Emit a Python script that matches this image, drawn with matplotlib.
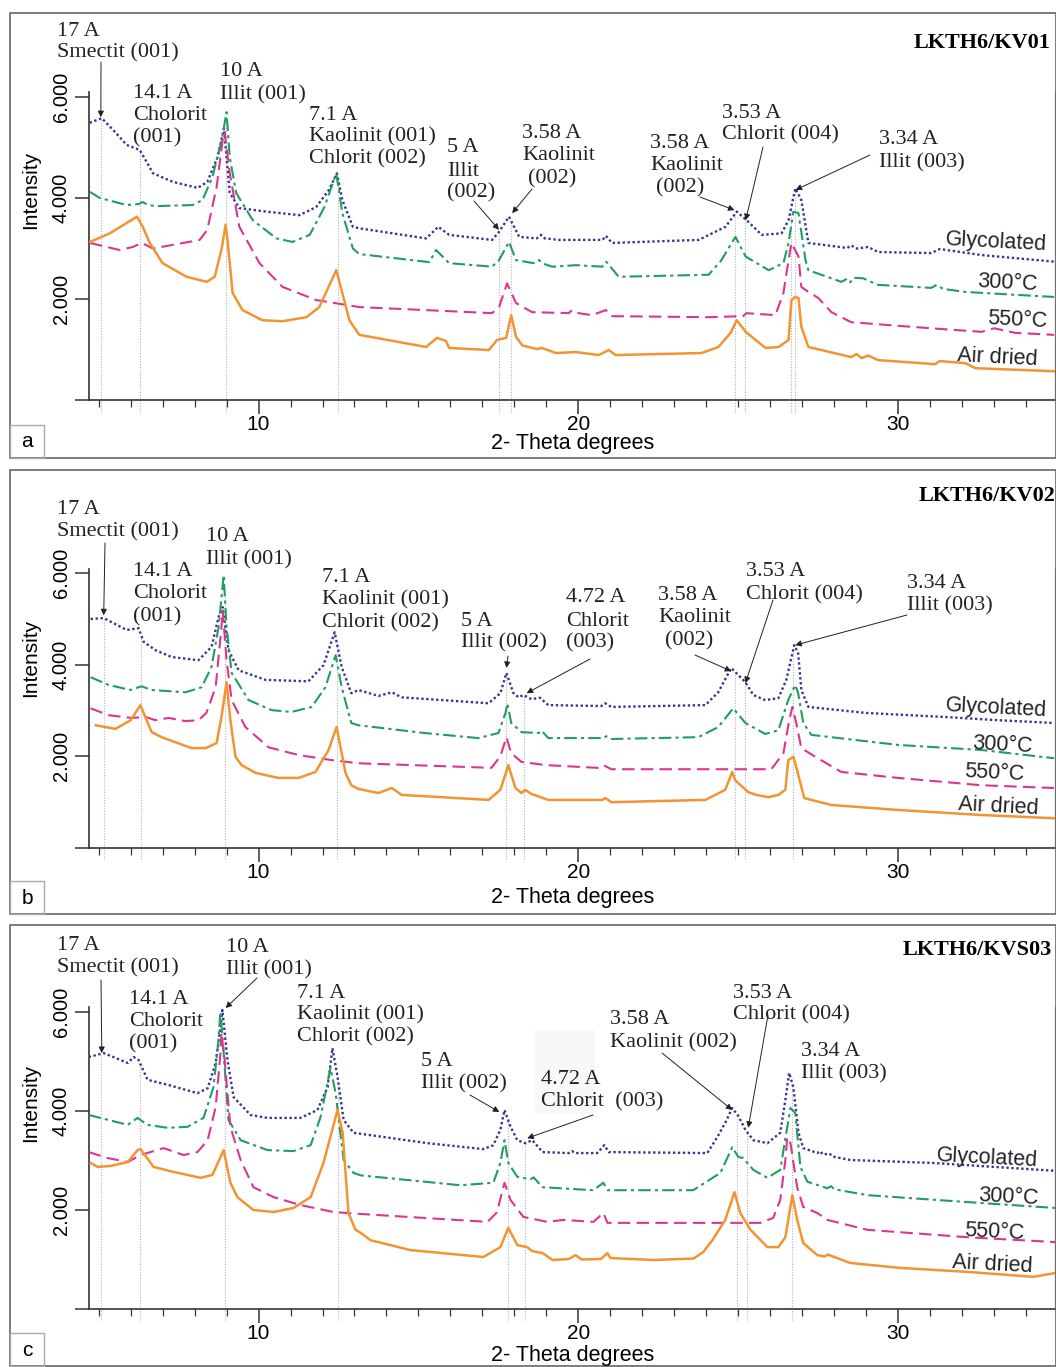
import matplotlib
matplotlib.use('Agg')
import matplotlib.pyplot as plt
import numpy as np
from matplotlib.patches import Rectangle

W, H = 1056, 1367
SERIF = 'Liberation Serif'
SANS = 'Liberation Sans'

SERIES = ['Glycolated', '300\u00b0C', '550\u00b0C', 'Air dried']
COLORS = ['#34349a', '#1f9e5e', '#dc3590', '#f29433']
STYLES = [(0, (1, 1.1)), (0, (6, 2, 1.5, 2)), (0, (6, 3)), '-']
WIDTHS = [1.7, 1.5, 1.5, 1.8]

# (2-theta, intensity), panel a  LKTH6/KV01
A_GLY = [(4.72, 5490), (5.1, 5580), (5.45, 5350), (5.88, 5050), (6.29, 4950), (6.7, 4490), (7.32, 4320),
         (8.1, 4200), (8.4, 4320), (8.72, 4810), (8.92, 5380), (9.1, 4100), (9.4, 3800), (10.25, 3730),
         (11.28, 3660), (11.8, 3820), (12.2, 4160), (12.45, 4490), (12.62, 3960), (12.95, 3430),
         (13.15, 3400), (15.24, 3200), (15.62, 3430), (15.96, 3270), (17.3, 3170), (17.52, 3330),
         (17.83, 3630), (18.15, 3230), (18.7, 3200), (18.83, 3270), (18.95, 3200), (19.4, 3170),
         (20.75, 3170), (20.86, 3250), (21.05, 3110), (23.76, 3170), (24.6, 3430), (24.95, 3730),
         (25.26, 3560), (25.73, 3270), (26.35, 3300), (26.57, 3560), (26.78, 4190), (26.97, 3960),
         (27.19, 3110), (28.4, 3010), (28.53, 3060), (28.7, 3000), (29.06, 3030), (29.37, 2930),
         (31.03, 2910), (31.3, 2990), (32.6, 2870), (34.87, 2740)]
A_300 = [(4.73, 4120), (5.04, 4000), (5.88, 3860), (6.25, 3880), (6.38, 3920), (6.55, 3860), (6.8, 3840),
         (7.94, 3860), (8.25, 3960), (8.56, 4420), (8.85, 5150), (9.0, 5700), (9.1, 4810), (9.3, 4100),
         (9.82, 3560), (10.56, 3200), (11.06, 3130), (11.6, 3270), (12.06, 3820), (12.43, 4490),
         (12.62, 3700), (12.95, 3000), (13.15, 2890), (15.34, 2730), (15.55, 2970), (15.96, 2710),
         (17.3, 2640), (17.52, 2770), (17.83, 3130), (18.05, 2770), (18.6, 2710), (18.77, 2770),
         (18.9, 2700), (19.18, 2640), (19.92, 2670), (20.75, 2640), (20.87, 2740), (21.26, 2440),
         (24.07, 2480), (24.45, 2750), (24.91, 3230), (25.23, 2840), (25.95, 2570), (26.41, 2710),
         (26.57, 3110), (26.72, 3730), (26.88, 3700), (27.1, 2770), (27.19, 2570), (28.22, 2340),
         (28.4, 2400), (28.5, 2330), (28.6, 2420), (28.9, 2410), (29.37, 2280), (31.03, 2220),
         (31.2, 2280), (31.4, 2200), (32.1, 2140), (34.87, 2040)]
A_550 = [(4.73, 3110), (5.66, 2970), (6.07, 3030), (6.35, 3110), (6.7, 3000), (8.16, 3170), (8.4, 3370),
         (8.69, 4220), (8.88, 5150), (8.94, 5310), (9.1, 4490), (9.4, 3430), (10.03, 2710), (10.75, 2240),
         (11.8, 1980), (13.15, 1840), (17.3, 1720), (17.52, 1840), (17.77, 2310), (18.05, 1920),
         (18.55, 1740), (19.7, 1720), (19.8, 1780), (20.0, 1720), (20.42, 1680), (20.86, 1780),
         (21.05, 1660), (24.07, 1640), (25.15, 1660), (25.25, 1720), (26.16, 1680), (26.41, 2120),
         (26.57, 2770), (26.66, 3110), (26.88, 2840), (26.97, 2240), (27.19, 2140), (27.5, 2020),
         (27.91, 1740), (28.53, 1540), (31.03, 1420), (32.6, 1350), (33.0, 1420), (33.65, 1330),
         (34.87, 1290)]
A_AIR = [(4.73, 3130), (5.35, 3300), (6.2, 3630), (6.38, 3430), (6.6, 3110), (7.0, 2710), (7.75, 2440),
         (8.38, 2340), (8.63, 2440), (8.85, 3000), (8.97, 3470), (9.03, 3170), (9.19, 2120), (9.5, 1780),
         (10.12, 1580), (10.75, 1560), (11.5, 1640), (11.9, 1840), (12.43, 2570), (12.62, 2120),
         (12.84, 1580), (13.15, 1290), (15.24, 1050), (15.58, 1230), (15.86, 1170), (15.96, 1030),
         (17.2, 990), (17.46, 1190), (17.74, 1230), (17.9, 1680), (18.05, 1250), (18.25, 1080),
         (18.7, 1010), (18.86, 1030), (19.3, 930), (19.92, 950), (20.64, 890), (20.95, 990),
         (21.17, 890), (23.85, 930), (24.38, 1050), (24.76, 1330), (24.95, 1580), (25.23, 1350),
         (25.54, 1190), (25.85, 1030), (26.26, 1050), (26.57, 1190), (26.66, 1980), (26.78, 2040),
         (26.88, 2020), (26.97, 1450), (27.19, 1050), (28.53, 850), (28.7, 910), (28.85, 830),
         (29.06, 880), (29.37, 790), (31.15, 710), (31.3, 770), (32.1, 730), (32.41, 630), (34.87, 570)]

# panel b  LKTH6/KV02
B_GLY = [(4.75, 5000), (5.16, 5020), (5.88, 4760), (6.25, 4800), (6.41, 4500), (6.78, 4320), (7.28, 4170),
         (8.12, 4100), (8.53, 4390), (8.75, 5040), (8.88, 5260), (9.06, 4320), (9.38, 3880), (10.22, 3670),
         (11.56, 3640), (12.03, 3990), (12.38, 4710), (12.6, 3950), (12.9, 3380), (13.12, 3450),
         (13.75, 3320), (14.17, 3400), (14.47, 3290), (17.19, 3160), (17.56, 3380), (17.75, 3820),
         (17.97, 3380), (18.13, 3290), (18.28, 3340), (18.53, 3250), (18.8, 3280), (19.06, 3120),
         (20.72, 3100), (20.84, 3160), (21.03, 3080), (23.97, 3120), (24.37, 3400), (24.78, 3930),
         (25.22, 3620), (25.47, 3340), (25.84, 3230), (26.25, 3270), (26.5, 3670), (26.75, 4430),
         (26.87, 4250), (26.97, 3450), (27.19, 3080), (28.97, 2950), (31.47, 2860), (33.12, 2790),
         (34.87, 2730)]
B_300 = [(4.75, 3730), (5.31, 3560), (6.0, 3450), (6.34, 3530), (6.66, 3450), (7.72, 3400), (8.22, 3510),
         (8.53, 3950), (8.75, 4820), (8.91, 5960), (9.0, 4820), (9.16, 3820), (9.69, 3230), (10.41, 3010),
         (11.03, 2970), (11.66, 3080), (12.09, 3510), (12.41, 4210), (12.6, 3510), (12.9, 2730),
         (13.12, 2680), (15.2, 2510), (16.87, 2400), (17.5, 2510), (17.72, 2950), (17.78, 3160),
         (17.9, 2730), (18.22, 2530), (18.75, 2510), (18.85, 2560), (19.06, 2400), (20.78, 2400),
         (20.87, 2440), (21.03, 2380), (23.75, 2420), (24.37, 2640), (24.84, 3050), (25.22, 2730),
         (25.84, 2490), (26.25, 2570), (26.56, 3230), (26.78, 3560), (26.87, 3380), (27.03, 2730),
         (27.28, 2470), (30.0, 2250), (32.6, 2140), (34.87, 1960)]
B_550 = [(4.75, 3050), (5.31, 2900), (6.03, 2840), (6.47, 2860), (6.78, 2790), (7.19, 2840), (7.72, 2770),
         (8.12, 2790), (8.37, 2950), (8.66, 3510), (8.84, 4820), (8.88, 5190), (9.0, 4100), (9.16, 3230),
         (9.59, 2640), (10.31, 2200), (11.25, 2030), (12.28, 1920), (13.12, 1850), (17.28, 1750),
         (17.56, 2000), (17.75, 2420), (17.9, 2070), (18.22, 1880), (18.97, 1810), (20.6, 1750),
         (20.78, 1810), (21.03, 1720), (24.37, 1720), (26.03, 1720), (26.41, 2070), (26.59, 2790),
         (26.69, 3080), (26.81, 2730), (26.97, 2180), (27.41, 1990), (28.22, 1660), (30.0, 1530),
         (32.6, 1370), (34.87, 1310)]
B_AIR = [(4.91, 2680), (5.53, 2600), (6.0, 2790), (6.31, 3120), (6.47, 2840), (6.66, 2530), (6.97, 2420),
         (7.91, 2180), (8.34, 2180), (8.69, 2290), (8.84, 2860), (9.0, 3620), (9.12, 2790), (9.28, 1990),
         (9.47, 1810), (9.91, 1640), (10.62, 1530), (11.25, 1530), (11.78, 1660), (12.19, 2140),
         (12.44, 2640), (12.72, 1640), (12.9, 1370), (13.12, 1290), (13.75, 1200), (14.17, 1310),
         (14.47, 1160), (17.19, 1050), (17.56, 1270), (17.81, 1810), (18.03, 1310), (18.22, 1200),
         (18.34, 1270), (18.53, 1180), (19.06, 1050), (20.75, 1050), (20.84, 1090), (21.03, 1000),
         (23.97, 1050), (24.28, 1160), (24.59, 1270), (24.81, 1660), (24.9, 1480), (25.31, 1220),
         (25.56, 1160), (25.94, 1110), (26.25, 1160), (26.47, 1270), (26.56, 1920), (26.72, 1990),
         (26.81, 1770), (27.06, 1090), (27.9, 940), (30.0, 830), (32.6, 720), (34.87, 650)]

# panel c  LKTH6/KVS03
C_GLY = [(4.69, 5090), (5.16, 5170), (5.91, 4970), (6.1, 5090), (6.25, 5030), (6.53, 4630), (7.16, 4530),
         (8.09, 4360), (8.41, 4460), (8.66, 4970), (8.81, 5700), (8.87, 6040), (9.03, 5030), (9.22, 4280),
         (9.75, 3920), (10.28, 3860), (11.31, 3860), (11.84, 4020), (12.16, 4480), (12.31, 5270),
         (12.47, 4690), (12.66, 3820), (12.97, 3560), (15.28, 3350), (17.03, 3230), (17.34, 3310),
         (17.56, 3620), (17.69, 4020), (17.88, 3680), (18.09, 3410), (18.34, 3350), (18.56, 3410),
         (18.88, 3170), (19.7, 3150), (19.8, 3190), (19.9, 3150), (20.59, 3150), (20.81, 3310),
         (20.95, 3170), (24.03, 3150), (24.34, 3470), (24.59, 3760), (24.81, 4060), (25.0, 3900),
         (25.22, 3620), (25.47, 3410), (25.91, 3350), (26.31, 3560), (26.47, 4220), (26.59, 4770),
         (26.72, 4480), (26.88, 3560), (27.03, 3250), (27.47, 3150), (27.55, 3190), (27.65, 3120),
         (27.85, 3140), (27.95, 3080), (28.5, 3010), (31.1, 2950), (34.94, 2790)]
C_300 = [(4.69, 3920), (5.91, 3720), (6.22, 3860), (6.53, 3720), (7.16, 3660), (7.78, 3680), (8.28, 3860),
         (8.59, 4480), (8.75, 5430), (8.81, 6000), (8.91, 5170), (9.06, 3820), (9.44, 3410), (10.28, 3210),
         (11.09, 3190), (11.63, 3310), (11.94, 3880), (12.25, 4870), (12.41, 4360), (12.66, 3010),
         (12.97, 2750), (13.19, 2700), (16.31, 2500), (17.34, 2550), (17.56, 2950), (17.69, 3410),
         (17.81, 2950), (18.09, 2670), (18.5, 2620), (18.6, 2660), (18.88, 2460), (20.47, 2400),
         (20.78, 2550), (20.91, 2400), (23.59, 2400), (24.44, 2750), (24.81, 3270), (25.0, 3070),
         (25.15, 3050), (25.47, 2810), (25.91, 2650), (26.31, 2810), (26.5, 3560), (26.63, 4060),
         (26.78, 3960), (26.94, 2870), (27.16, 2570), (27.78, 2440), (27.9, 2480), (28.0, 2420),
         (29.03, 2300), (32.16, 2160), (34.94, 2040)]
C_550 = [(4.69, 3170), (5.28, 3050), (5.91, 2970), (6.31, 3110), (7.03, 3250), (7.66, 3110), (8.09, 3170),
         (8.41, 3410), (8.66, 4080), (8.81, 5170), (8.84, 5580), (8.94, 5030), (9.12, 3680), (9.44, 3010),
         (9.84, 2460), (10.47, 2260), (11.31, 2100), (12.34, 1960), (13.19, 1920), (17.16, 1760),
         (17.45, 1950), (17.69, 2550), (17.88, 2200), (18.28, 1860), (19.03, 1760), (19.53, 1800),
         (20.47, 1760), (20.78, 1940), (20.91, 1740), (25.69, 1740), (26.09, 1840), (26.31, 2200),
         (26.47, 3010), (26.53, 3470), (26.63, 3350), (26.84, 2460), (27.03, 2060), (27.47, 1940),
         (27.78, 1800), (29.03, 1600), (32.16, 1450), (34.94, 1350)]
C_AIR = [(4.75, 2950), (4.97, 2870), (5.38, 2890), (5.91, 2970), (6.22, 3210), (6.31, 3230), (6.72, 2870),
         (7.34, 2770), (8.19, 2650), (8.56, 2710), (8.91, 3210), (9.12, 2550), (9.34, 2260), (9.84, 2000),
         (10.47, 1960), (11.09, 2040), (11.63, 2260), (12.03, 2950), (12.47, 4020), (12.63, 3560),
         (12.81, 1940), (13.03, 1600), (13.19, 1540), (13.5, 1390), (14.75, 1190), (17.03, 1050),
         (17.56, 1250), (17.81, 1640), (18.09, 1290), (18.4, 1250), (18.55, 1170), (18.88, 1130),
         (19.19, 990), (19.7, 1010), (19.91, 1090), (20.1, 1000), (20.7, 1010), (20.91, 1130),
         (21.0, 1030), (22.34, 990), (23.6, 1020), (23.9, 1150), (24.2, 1400), (24.59, 1800),
         (24.88, 2360), (25.06, 1940), (25.38, 1600), (25.91, 1250), (26.25, 1250), (26.47, 1450),
         (26.69, 2300), (26.84, 1800), (27.03, 1330), (27.47, 1090), (27.7, 1060), (27.8, 1100),
         (28.0, 1050), (28.5, 930), (30.06, 830), (32.16, 750), (34.22, 650), (34.94, 730)]

# peak positions marked by thin dotted lines
A_REF = [5.07, 6.28, 8.97, 12.5, 17.52, 17.9, 24.9, 25.2, 26.66, 26.78]
B_REF = [5.16, 6.34, 8.94, 12.44, 17.75, 18.3, 24.9, 25.22, 26.7]
C_REF = [5.06, 6.28, 8.94, 12.5, 17.81, 18.34, 24.97, 25.28, 26.69]

TITLES = ['LKTH6/KV01', 'LKTH6/KV02', 'LKTH6/KVS03']
LETTERS = ['a', 'b', 'c']

# annotation lines: (left px, centre px, text)
A_TEXT = [(57, 31, '17 A'), (57, 53, 'Smectit (001)'), (133, 93, '14.1 A'), (133, 116, 'Cholorit'),
          (133, 138, '(001)'), (220, 72, '10 A'), (220, 95, 'Illit (001)'), (309, 115, '7.1 A'),
          (309, 137, 'Kaolinit (001)'), (309, 159, 'Chlorit (002)'), (447, 148, '5 A'), (447, 171, 'Illit'),
          (447, 193, '(002)'), (522, 133, '3.58 A'), (522, 156, 'Kaolinit'), (528, 179, '(002)'),
          (650, 143, '3.58 A'), (650, 165, 'Kaolinit'), (656, 188, '(002)'), (722, 113, '3.53 A'),
          (722, 135, 'Chlorit (004)'), (879, 140, '3.34 A'), (879, 163, 'Illit (003)')]
B_TEXT = [(57, 509, '17 A'), (57, 532, 'Smectit (001)'), (133, 572, '14.1 A'), (133, 594, 'Cholorit'),
          (133, 617, '(001)'), (206, 537, '10 A'), (206, 560, 'Illit (001)'), (322, 577, '7.1 A'),
          (322, 600, 'Kaolinit (001)'), (322, 623, 'Chlorit (002)'), (461, 622, '5 A'),
          (461, 643, 'Illit (002)'), (566, 598, '4.72 A'), (566, 621, 'Chlorit'), (566, 643, '(003)'),
          (658, 596, '3.58 A'), (658, 618, 'Kaolinit'), (665, 641, '(002)'), (746, 572, '3.53 A'),
          (746, 595, 'Chlorit (004)'), (907, 583, '3.34 A'), (907, 606, 'Illit (003)')]
C_TEXT = [(57, 945, '17 A'), (57, 968, 'Smectit (001)'), (129, 999, '14.1 A'), (129, 1021, 'Cholorit'),
          (129, 1044, '(001)'), (226, 948, '10 A'), (226, 970, 'Illit (001)'), (297, 993, '7.1 A'),
          (297, 1015, 'Kaolinit (001)'), (297, 1037, 'Chlorit (002)'), (421, 1062, '5 A'),
          (421, 1084, 'Illit (002)'), (541, 1079, '4.72 A'), (541, 1102, 'Chlorit  (003)'),
          (610, 1020, '3.58 A'), (610, 1043, 'Kaolinit (002)'), (733, 993, '3.53 A'),
          (733, 1015, 'Chlorit (004)'), (801, 1052, '3.34 A'), (801, 1074, 'Illit (003)')]

# arrows: tail in px, head at (2-theta, intensity)
A_ARROWS = [(101, 62, 5.07, 5600), (474, 201, 17.52, 3370), (532, 189, 17.93, 3700),
            (700, 197, 24.88, 3760), (763, 147, 25.23, 3560), (870, 155, 26.79, 4160)]
B_ARROWS = [(105, 543, 5.16, 5080), (508, 656, 17.75, 3930), (590, 659, 18.38, 3380),
            (695, 655, 24.78, 3860), (773, 600, 25.22, 3600), (907, 615, 26.78, 4430)]
C_ARROWS = [(101, 980, 5.1, 5170), (257, 978, 8.97, 6080), (470, 1095, 17.53, 3980),
            (593, 1115, 18.4, 3450), (662, 1053, 24.81, 4020), (768, 1015, 25.31, 3660)]

# series label centres (px)
A_LAB = [(996, 242), (1008, 283), (1017, 320), (997, 358)]
B_LAB = [(996, 708), (1003, 745), (994, 773), (998, 807)]
C_LAB = [(987, 1158), (1009, 1197), (994, 1232), (992, 1265)]

# layout of each panel in px: frame top/bottom, axis base, px per 1000 counts, title, x label
PANELS = [
    dict(data=[A_GLY, A_300, A_550, A_AIR], ref=A_REF, text=A_TEXT, arrows=A_ARROWS, lab=A_LAB,
         frame=(13, 458), base=400, k=50.5, title=(1050, 43), xlab=443),
    dict(data=[B_GLY, B_300, B_550, B_AIR], ref=B_REF, text=B_TEXT, arrows=B_ARROWS, lab=B_LAB,
         frame=(470, 914), base=848, k=45.8, title=(1055, 496), xlab=898),
    dict(data=[C_GLY, C_300, C_550, C_AIR], ref=C_REF, text=C_TEXT, arrows=C_ARROWS, lab=C_LAB,
         frame=(925, 1366), base=1309, k=49.5, title=(1052, 950), xlab=1355),
]

YTOP = 6100
X0, X1 = 4.7, 34.9
AX_L, AX_R = 89, 1055

fig = plt.figure(figsize=(W / 100, H / 100), dpi=100)

for i, p in enumerate(PANELS):
    top, bot = p['frame']
    fig.add_artist(Rectangle((10 / W, 1 - bot / H), (W - 10.5) / W, (bot - top) / H,
                             transform=fig.transFigure, fill=False, ec='#666666', lw=1.2))
    fig.add_artist(Rectangle((10 / W, 1 - bot / H), 34 / W, 33 / H,
                             transform=fig.transFigure, fill=False, ec='#aaaaaa', lw=1.0))
    fig.text(27 / W, 1 - (bot - 16) / H, LETTERS[i], family=SANS, fontsize=15, ha='center', va='center')

    ax_h = YTOP * p['k'] / 1000
    ax = fig.add_axes([AX_L / W, 1 - p['base'] / H, (AX_R - AX_L) / W, ax_h / H])
    ax.set_xlim(X0, X1)
    ax.set_ylim(0, YTOP)
    ax.patch.set_alpha(0)
    ax.spines['top'].set_visible(False)
    for s in ['left', 'bottom']:
        ax.spines[s].set_color('#333333')
        ax.spines[s].set_linewidth(1.2)
    ax.spines['right'].set_color('#999999')
    ax.spines['right'].set_linewidth(1.0)

    curves = [np.array(d).T for d in p['data']]
    for (xs, ys), c, ls, lw in zip(curves, COLORS, STYLES, WIDTHS):
        ax.plot(xs, ys, color=c, ls=ls, lw=lw, zorder=3)

    for r in p['ref']:
        hi = max(np.interp(r, xs, ys) for xs, ys in curves)
        ax.plot([r, r], [-230, hi], color='#b0b0b0', lw=0.8, ls=(0, (1, 1.5)), zorder=1, clip_on=False)

    ax.set_xticks([10, 20, 30])
    ax.set_xticks(np.arange(5, 35, 1), minor=True)
    ax.set_xticklabels(['10', '20', '30'], family=SANS, fontsize=15)
    ax.tick_params(axis='x', which='major', length=10, width=1.1, color='#333333', pad=1)
    ax.tick_params(axis='x', which='minor', length=5, width=0.9, color='#333333')
    ax.set_yticks([0, 2000, 4000, 6000])
    ax.set_yticklabels(['', '2.000', '4.000', '6.000'], rotation=90, va='center', family=SANS, fontsize=14.5)
    ax.tick_params(axis='y', length=10, width=1.1, color='#333333', pad=3)

    fig.text(573 / W, 1 - p['xlab'] / H, '2- Theta degrees', family=SANS, fontsize=15.5,
             ha='center', va='center')
    fig.text(31 / W, 1 - (p['base'] - 210 * p['k'] / 50.5) / H, 'Intensity', family=SANS,
             fontsize=15, rotation=90, ha='center', va='center')
    fig.text(p['title'][0] / W, 1 - p['title'][1] / H, TITLES[i], family=SERIF, fontsize=16,
             weight='bold', ha='right', va='center')

    if i == 2:
        fig.add_artist(Rectangle((535 / W, 1 - 1114 / H), 60 / W, 84 / H, transform=fig.transFigure,
                                 fc='#f8f8f8', ec='none', zorder=0))
    for px, py, t in p['text']:
        fig.text(px / W, 1 - py / H, t, family=SERIF, fontsize=16, ha='left', va='center', color='#222222')

    for tx, ty, hx, hy in p['arrows']:
        ax.annotate('', xy=(hx, hy), xycoords='data', xytext=(tx, H - ty), textcoords='figure pixels',
                    arrowprops=dict(arrowstyle='-|>', color='#222222', lw=0.7, mutation_scale=9,
                                    shrinkA=0, shrinkB=0), annotation_clip=False)

    for (lx, ly), name in zip(p['lab'], SERIES):
        fig.text(lx / W, 1 - ly / H, name, family=SANS, fontsize=15.5, ha='center', va='center',
                 rotation=-3, color='#222222')

fig.savefig('out.png', dpi=100)
